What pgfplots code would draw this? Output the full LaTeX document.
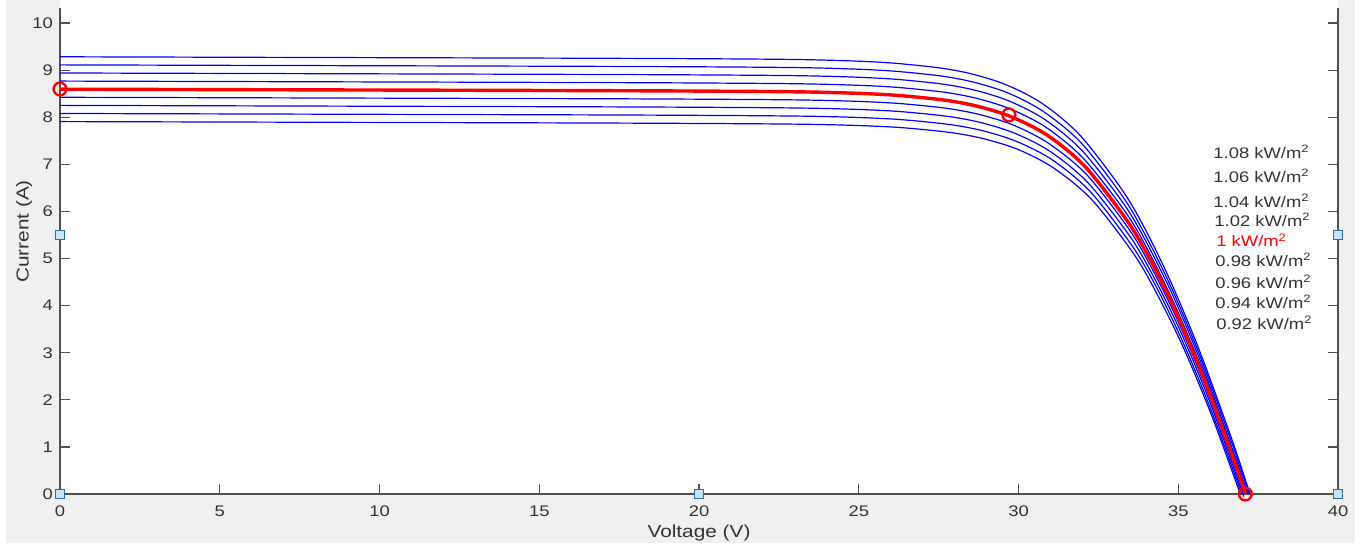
\documentclass[border=0pt]{standalone}
\usepackage{pgfplots}
\pgfplotsset{compat=1.18}
\usepackage{fontspec}
\setmainfont{Liberation Sans}[FakeStretch=1.2]

\definecolor{figgray}{RGB}{240,240,240}
\definecolor{axgray}{RGB}{80,80,80}
\definecolor{txtgray}{RGB}{50,50,50}
\definecolor{tipfill}{RGB}{200,226,246}
\definecolor{tipedge}{RGB}{40,110,180}

\begin{document}
\begin{tikzpicture}
\path[use as bounding box] (0,0) rectangle (682bp,272.5bp);
\fill[white] (0,0) rectangle (682bp,272.5bp);
\fill[figgray] (3bp,1bp) rectangle (677.5bp,272.5bp);
\fill[white] (30bp,25.5bp) rectangle (669bp,272.5bp);
\begin{axis}[
  at={(30bp,25.5bp)}, anchor=south west,
  scale only axis, width=639bp, height=243bp,
  xmin=0, xmax=40, ymin=0, ymax=10.32,
  xtick={0,5,...,40}, ytick={0,1,...,10},
  axis x line=bottom, axis y line=box,
  axis line style={-, axgray, line width=0.6bp},
  tick align=inside, major tick length=5bp,
  tick style={axgray, line width=0.6bp},
  axis background/.style={fill=white},
  /pgf/number format/assume math mode=true,
  tick label style={font=\fontsize{7.7}{9}\selectfont, text=txtgray},
  xticklabel shift=2.5bp,
  xlabel={Voltage (V)}, ylabel={Current (A)},
  label style={font=\fontsize{8.7}{10}\selectfont, text=txtgray},
  xlabel style={at={(axis description cs:0.5,-0.08)}, anchor=center},
  ylabel style={at={(axis description cs:-0.028,0.54)}, anchor=center},
  clip=false,
]
% 0.92 kW/m2
\addplot[blue, line width=0.6bp, smooth] coordinates {
  (0,7.908) (7.84,7.894) (17.84,7.875) (22.85,7.855) (24.86,7.827) (26.37,7.778)
  (27.90,7.673) (28.93,7.540) (30.00,7.312) (31.10,6.922) (32.29,6.253) (33.60,5.105)
  (34.33,4.254) (35.14,3.139) (36.04,1.677) (36.94,0)
};
% 0.94 kW/m2
\addplot[blue, line width=0.6bp, smooth] coordinates {
  (0,8.080) (7.79,8.066) (17.80,8.047) (22.80,8.027) (24.81,7.999) (26.32,7.950)
  (27.85,7.845) (28.89,7.712) (29.95,7.484) (31.06,7.094) (32.24,6.425) (33.55,5.277)
  (34.29,4.426) (35.09,3.311) (35.99,1.849) (36.985,0)
};
% 0.96 kW/m2
\addplot[blue, line width=0.6bp, smooth] coordinates {
  (0,8.252) (7.74,8.238) (17.75,8.219) (22.75,8.199) (24.76,8.171) (26.27,8.122)
  (27.80,8.017) (28.84,7.884) (29.90,7.656) (31.01,7.266) (32.19,6.597) (33.51,5.449)
  (34.24,4.598) (35.05,3.483) (35.95,2.021) (36.97,0.105) (37.024,0)
};
% 0.98 kW/m2
\addplot[blue, line width=0.6bp, smooth] coordinates {
  (0,8.424) (7.70,8.410) (17.70,8.391) (22.71,8.371) (24.71,8.343) (26.23,8.294)
  (27.76,8.189) (28.79,8.056) (29.86,7.828) (30.96,7.438) (32.15,6.769) (33.46,5.621)
  (34.19,4.770) (35.00,3.655) (35.90,2.193) (36.92,0.277) (37.062,0)
};
% 1.02 kW/m2
\addplot[blue, line width=0.6bp, smooth] coordinates {
  (0,8.768) (7.60,8.754) (17.61,8.735) (22.61,8.715) (24.62,8.687) (26.13,8.638)
  (27.66,8.533) (28.70,8.400) (29.76,8.172) (30.87,7.782) (32.05,7.113) (33.37,5.965)
  (34.10,5.114) (34.90,3.999) (35.81,2.537) (36.83,0.621) (37.137,0)
};
% 1.04 kW/m2
\addplot[blue, line width=0.6bp, smooth] coordinates {
  (0,8.940) (7.55,8.926) (17.56,8.907) (22.57,8.887) (24.57,8.859) (26.09,8.810)
  (27.61,8.705) (28.65,8.572) (29.71,8.344) (30.82,7.954) (32.00,7.285) (33.32,6.137)
  (34.05,5.286) (34.86,4.171) (35.76,2.709) (36.78,0.793) (37.173,0)
};
% 1.06 kW/m2
\addplot[blue, line width=0.6bp, smooth] coordinates {
  (0,9.112) (7.51,9.098) (17.51,9.079) (22.52,9.059) (24.53,9.031) (26.04,8.982)
  (27.57,8.877) (28.60,8.744) (29.67,8.516) (30.77,8.126) (31.96,7.457) (33.27,6.309)
  (34.00,5.458) (34.81,4.343) (35.71,2.881) (36.74,0.965) (37.209,0)
};
% 1.08 kW/m2
\addplot[blue, line width=0.6bp, smooth] coordinates {
  (0,9.284) (7.46,9.270) (17.47,9.251) (22.47,9.231) (24.48,9.203) (25.99,9.154)
  (27.52,9.049) (28.56,8.916) (29.62,8.688) (30.73,8.298) (31.91,7.629) (33.22,6.481)
  (33.96,5.630) (34.76,4.515) (35.66,3.053) (36.69,1.137) (37.243,0)
};
% 1 kW/m2 (highlighted)
\addplot[red, line width=1.7bp, smooth] coordinates {
  (0,8.596) (7.65,8.582) (17.65,8.563) (22.66,8.543) (24.67,8.515) (26.18,8.466)
  (27.71,8.361) (28.75,8.228) (29.81,8.000) (30.92,7.610) (32.10,6.941) (33.41,5.793)
  (34.15,4.942) (34.95,3.827) (35.85,2.365) (36.88,0.449) (37.10,0)
};
% Isc, MPP, Voc
\addplot[only marks, mark=o, mark size=3.2bp, red, line width=1.2bp] coordinates {
  (0,8.6) (29.7,8.05) (37.1,0)
};
% data tips
\addplot[only marks, mark=square*, mark size=2.2bp, mark options={fill=tipfill, draw=tipedge, line width=0.6bp}] coordinates {
  (0,0) (0,5.5) (20,0) (40,0) (40,5.5)
};

\begin{scope}[every node/.style={anchor=west, inner sep=0pt, text=txtgray, font=\fontsize{7.7}{9}\selectfont}]
\node at (axis cs:36.09,7.26) {1.08 kW/m\textsuperscript{2}};
\node at (axis cs:36.09,6.75) {1.06 kW/m\textsuperscript{2}};
\node at (axis cs:36.09,6.23) {1.04 kW/m\textsuperscript{2}};
\node at (axis cs:36.12,5.82) {1.02 kW/m\textsuperscript{2}};
\node[text=red] at (axis cs:36.18,5.39) {1 kW/m\textsuperscript{2}};
\node at (axis cs:36.15,4.97) {0.98 kW/m\textsuperscript{2}};
\node at (axis cs:36.15,4.51) {0.96 kW/m\textsuperscript{2}};
\node at (axis cs:36.15,4.08) {0.94 kW/m\textsuperscript{2}};
\node at (axis cs:36.18,3.64) {0.92 kW/m\textsuperscript{2}};
\end{scope}
\end{axis}
\end{tikzpicture}
\end{document}
